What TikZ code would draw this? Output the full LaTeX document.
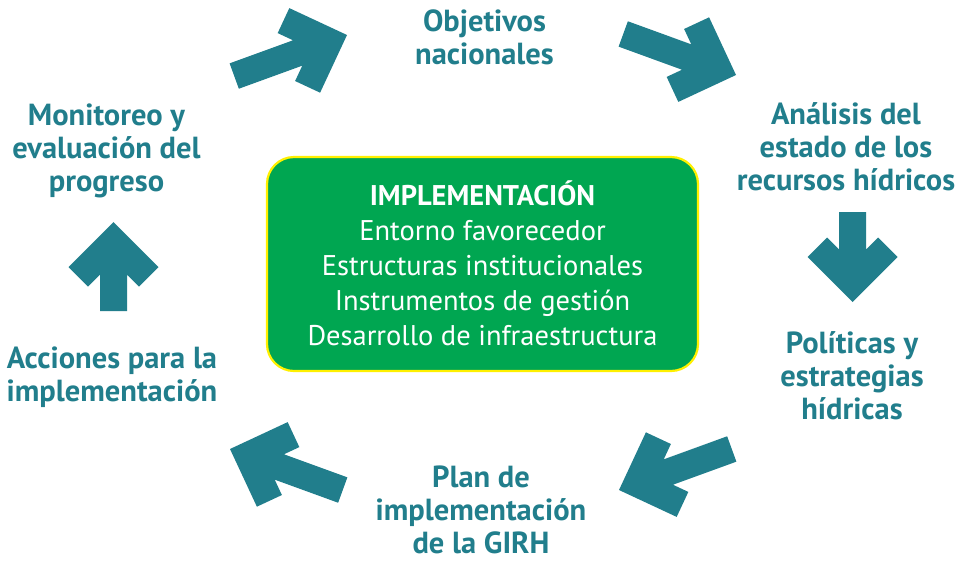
\documentclass[tikz,border=0pt]{standalone}
\usepackage{fontspec}
\setmainfont{PT Sans}
\definecolor{cycteal}{RGB}{33,126,140}
\definecolor{coregreen}{RGB}{0,166,81}
\definecolor{coreyellow}{RGB}{255,240,0}
\tikzset{
  lbl/.style={font=\bfseries\fontsize{30.5}{33}\selectfont, text=cycteal, align=center, inner sep=0pt, anchor=north},
  cyc/.style={fill=cycteal, draw=none},
  corebox/.style={draw=coreyellow, line width=2.2pt, fill=coregreen, rounded corners=27pt,
    minimum width=431pt, minimum height=214pt, inner sep=0pt, text=white, align=center,
    font=\fontsize{28.5}{35}\selectfont},
}
\newcommand\cycarrow[4]{%
  \fill[cyc, shift={(#1,#2)}, rotate=#3] (0,0) -- (-45,45) -- (-64.5,25.5) -- (-52.5,13.5)
    -- (-#4,13.5) -- (-#4,-13.5) -- (-52.5,-13.5) -- (-64.5,-25.5) -- (-45,-45) -- cycle;}
\begin{document}
\begin{tikzpicture}[x=1pt, y=-1pt]
\useasboundingbox (0,0) rectangle (956,566);
\fill[white] (0,0) rectangle (956,566);
% central box
\node[corebox] (core) at (482.5,264) {\rule{0pt}{32.5pt}\textbf{IMPLEMENTACIÓN}\\
  Entorno favorecedor\\ Estructuras institucionales\\ Instrumentos de gestión\\
  Desarrollo de infraestructura\strut};
% labels
\node[lbl] (obj) at (484.5,7.9) {\strut Objetivos\\ nacionales};
\node[lbl] (ana) at (846,100.9) {\strut Análisis del\\ estado de los\\ recursos hídricos};
\node[lbl] (pol) at (852,329.9) {\strut Políticas y\\ estrategias\\ hídricas};
\node[lbl] (plan) at (481,463.9) {\strut Plan de\\ implementación\\ de la GIRH};
\node[lbl] (acc) at (112,344.9) {\strut Acciones para la\\ implementación};
\node[lbl] (mon) at (106.5,101.9) {\strut Monitoreo y\\ evaluación del\\ progreso};
% arrows
\cycarrow{347}{35}{20}{120}
\cycarrow{736}{75}{-20}{120}
\cycarrow{852.5}{302}{-90}{90}
\cycarrow{619}{490}{200}{120}
\cycarrow{230}{449}{160}{120}
\cycarrow{113.5}{222}{90}{89}
\end{tikzpicture}
\end{document}
